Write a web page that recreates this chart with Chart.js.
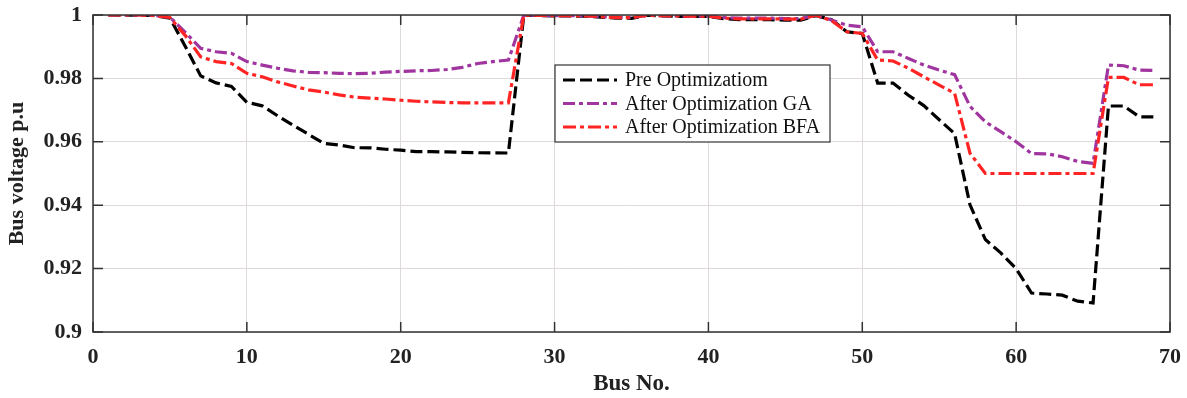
<!DOCTYPE html>
<html>
<head>
<meta charset="utf-8">
<script src="https://cdn.jsdelivr.net/npm/chart.js@4/dist/chart.umd.min.js"></script>
<style>
  html, body { margin: 0; padding: 0; background: #fff; }
  #wrap { width: 1187px; height: 398px; }
</style>
</head>
<body>
<div id="wrap"><canvas id="voltChart" width="1187" height="398"></canvas></div>
<script>
// bus numbers (x axis)
const busNo = [1, 2, 3, 4, 5, 6, 7, 8, 9, 10, 11, 12, 13, 14, 15, 16, 17, 18, 19, 20,
  21, 22, 23, 24, 25, 26, 27, 28, 29, 30, 31, 32, 33, 34, 35, 36, 37, 38, 39, 40,
  41, 42, 43, 44, 45, 46, 47, 48, 49, 50, 51, 52, 53, 54, 55, 56, 57, 58, 59, 60,
  61, 62, 63, 64, 65, 66, 67, 68, 69];

const preOpt = [1.0000, 0.99997, 0.99993, 0.99984, 0.99902, 0.99009, 0.98079, 0.97858, 0.97745, 0.97245,
  0.97135, 0.96819, 0.96526, 0.96237, 0.95952, 0.95899, 0.95812, 0.95811, 0.95765, 0.95736,
  0.95688, 0.95687, 0.95681, 0.95668, 0.95655, 0.95649, 0.95647, 0.99993, 0.99985, 0.99973,
  0.99971, 0.99961, 0.99935, 0.99901, 0.99895, 0.99992, 0.99975, 0.99959, 0.99954, 0.99954,
  0.99884, 0.99855, 0.99851, 0.99850, 0.99841, 0.99840, 0.99979, 0.99854, 0.99470, 0.99415,
  0.97854, 0.97854, 0.97466, 0.97142, 0.96695, 0.96258, 0.94011, 0.92917, 0.92495, 0.91997,
  0.91228, 0.91199, 0.91161, 0.90972, 0.90915, 0.97129, 0.97129, 0.96789, 0.96789];

const gaOpt = [1.0000, 1.0000, 1.0000, 0.9999, 0.9993, 0.9945, 0.9895, 0.9884, 0.9879, 0.9853,
  0.9842, 0.9832, 0.9824, 0.9819, 0.9818, 0.9816, 0.9815, 0.9816, 0.9820, 0.9822,
  0.9824, 0.9825, 0.9828, 0.9835, 0.9847, 0.9853, 0.9858, 0.99995, 0.9999, 0.9998,
  0.9998, 0.9997, 0.9995, 0.9993, 0.9992, 0.9999, 0.9998, 0.9997, 0.9996, 0.9996,
  0.9992, 0.9990, 0.9990, 0.9990, 0.9989, 0.9989, 0.9999, 0.9984, 0.9968, 0.9963,
  0.9884, 0.9884, 0.9863, 0.9842, 0.9826, 0.9812, 0.9712, 0.9663, 0.9632, 0.9600,
  0.9563, 0.9562, 0.9553, 0.9538, 0.9532, 0.9842, 0.9840, 0.9826, 0.9825];

const bfaOpt = [1.0000, 1.0000, 1.0000, 0.9998, 0.9992, 0.9935, 0.9868, 0.9853, 0.9847, 0.9816,
  0.9805, 0.9789, 0.9776, 0.9764, 0.9757, 0.9748, 0.9741, 0.9738, 0.9735, 0.9731,
  0.9728, 0.9726, 0.9724, 0.9723, 0.9723, 0.9723, 0.9723, 0.99995, 0.9999, 0.9998,
  0.9998, 0.9997, 0.9995, 0.9992, 0.9992, 0.9999, 0.9998, 0.9997, 0.9996, 0.9996,
  0.9990, 0.9988, 0.9988, 0.9988, 0.9987, 0.9987, 0.9999, 0.9982, 0.9947, 0.9942,
  0.9858, 0.9855, 0.9832, 0.9805, 0.9779, 0.9753, 0.9564, 0.9500, 0.9500, 0.9500,
  0.9500, 0.9500, 0.9500, 0.9500, 0.9500, 0.9803, 0.9803, 0.9780, 0.9780];

const seriesNames = ["Pre Optimizatiom", "After Optimization GA", "After Optimization BFA"];
const xTicks = [0, 10, 20, 30, 40, 50, 60, 70];
const yTicks = [0.9, 0.92, 0.94, 0.96, 0.98, 1];
const yTickLabels = ["0.9", "0.92", "0.94", "0.96", "0.98", "1"];

const serif = "'Liberation Serif', 'Times New Roman', serif";
const toPoints = (vals) => vals.map((v, i) => ({ x: busNo[i], y: v }));

// box round the plot + MATLAB style inward ticks
const framePlugin = {
  id: "frame",
  afterDatasetsDraw(chart) {
    const { ctx, chartArea: a, scales } = chart;
    ctx.save();
    ctx.strokeStyle = "#333";
    ctx.lineWidth = 1.5;
    const len = 10;
    ctx.beginPath();
    scales.x.ticks.forEach((t) => {
      const px = scales.x.getPixelForValue(t.value);
      ctx.moveTo(px, a.bottom); ctx.lineTo(px, a.bottom - len);
      ctx.moveTo(px, a.top); ctx.lineTo(px, a.top + len);
    });
    scales.y.ticks.forEach((t) => {
      const py = scales.y.getPixelForValue(t.value);
      ctx.moveTo(a.left, py); ctx.lineTo(a.left + len, py);
      ctx.moveTo(a.right, py); ctx.lineTo(a.right - len, py);
    });
    ctx.stroke();
    ctx.strokeRect(a.left, a.top, a.right - a.left, a.bottom - a.top);
    ctx.restore();
  },
};

// legend box inside the plot
const legendPlugin = {
  id: "boxLegend",
  afterDraw(chart) {
    const { ctx, chartArea: a } = chart;
    const left = a.left + 462, top = a.top + 50, w = 275, h = 77;
    ctx.save();
    ctx.fillStyle = "#fff";
    ctx.fillRect(left, top, w, h);
    ctx.strokeStyle = "#333";
    ctx.lineWidth = 1.2;
    ctx.strokeRect(left, top, w, h);
    ctx.font = "20px " + serif;
    ctx.textBaseline = "middle";
    chart.data.datasets.forEach((ds, i) => {
      const y = top + 15 + i * 23.5;
      ctx.strokeStyle = ds.borderColor;
      ctx.lineWidth = ds.borderWidth;
      ctx.setLineDash(ds.borderDash);
      ctx.beginPath();
      ctx.moveTo(left + 8, y);
      ctx.lineTo(left + 62, y);
      ctx.stroke();
      ctx.setLineDash([]);
      ctx.fillStyle = "#111";
      ctx.fillText(ds.label, left + 70, y + 1);
    });
    ctx.restore();
  },
};

const ctx = document.getElementById("voltChart").getContext("2d");
new Chart(ctx, {
  type: "line",
  data: {
    datasets: [
      {
        label: seriesNames[0],
        data: toPoints(preOpt),
        borderColor: "#000000",
        borderWidth: 3.2,
        borderDash: [12, 5],
        order: 3,
      },
      {
        label: seriesNames[1],
        data: toPoints(gaOpt),
        borderColor: "#a0359f",
        borderWidth: 3.2,
        borderDash: [12, 4, 4, 4],
        order: 2,
      },
      {
        label: seriesNames[2],
        data: toPoints(bfaOpt),
        borderColor: "#ff2424",
        borderWidth: 3.2,
        borderDash: [13, 4, 4, 4],
        order: 1,
      },
    ],
  },
  options: {
    responsive: false,
    animation: false,
    events: [],
    elements: { point: { radius: 0 }, line: { tension: 0, fill: false } },
    layout: { padding: { top: 15, right: 17, left: 0, bottom: 0 } },
    plugins: { legend: { display: false }, tooltip: { enabled: false } },
    scales: {
      x: {
        type: "linear",
        min: 0,
        max: 70,
        afterBuildTicks: (s) => { s.ticks = xTicks.map((v) => ({ value: v })); },
        afterFit: (s) => { s.height = 66; s.paddingLeft = 0; s.paddingRight = 0; },
        grid: { color: "#dedada", lineWidth: 1, drawTicks: false },
        border: { display: false },
        ticks: {
          padding: 12,
          color: "#222",
          font: { family: serif, size: 22, weight: "bold" },
        },
        title: {
          display: true,
          text: "Bus No.",
          color: "#222",
          padding: { top: 0, bottom: 0 },
          font: { family: serif, size: 23, weight: "bold" },
        },
      },
      y: {
        min: 0.9,
        max: 1,
        afterBuildTicks: (s) => { s.ticks = yTicks.map((v) => ({ value: v })); },
        afterFit: (s) => { s.width = 93; s.paddingTop = 0; s.paddingBottom = 0; },
        grid: { color: "#dedada", lineWidth: 1, drawTicks: false },
        border: { display: false },
        ticks: {
          padding: 11,
          color: "#222",
          font: { family: serif, size: 22, weight: "bold" },
          callback: (v) => yTickLabels[yTicks.findIndex((t) => Math.abs(t - v) < 1e-9)],
        },
        title: {
          display: true,
          text: "Bus voltage p.u",
          color: "#222",
          padding: { top: 4, bottom: 0 },
          font: { family: serif, size: 22, weight: "bold" },
        },
      },
    },
  },
  plugins: [framePlugin, legendPlugin],
});
</script>
</body>
</html>
